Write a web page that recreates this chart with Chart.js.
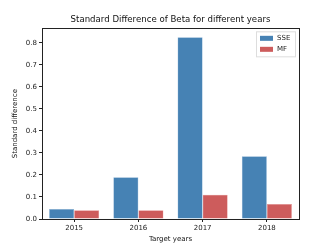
<!DOCTYPE html>
<html>
<head>
<meta charset="utf-8">
<script src="https://cdn.jsdelivr.net/npm/chart.js@4/dist/chart.umd.min.js"></script>
<style>
  html, body { margin: 0; padding: 0; background: #fff; }
  #wrap { width: 332px; height: 247px; }
</style>
</head>
<body>
<div id="wrap"><canvas id="chart" width="332" height="247"></canvas></div>
<script>
const years = ['2015', '2016', '2017', '2018'];
const sseValues = [0.045, 0.19, 0.825, 0.285];
const mfValues = [0.04, 0.04, 0.11, 0.068];
const yTicks = [0, 0.1, 0.2, 0.3, 0.4, 0.5, 0.6, 0.7, 0.8];

const FONT = 'DejaVu Sans';

// matplotlib-style frame + legend box inside the axes
const framePlugin = {
  id: 'frame',
  afterDraw(chart) {
    const { ctx, chartArea: a } = chart;
    ctx.save();
    ctx.strokeStyle = '#222';
    ctx.lineWidth = 1;
    ctx.strokeRect(Math.round(a.left) + 0.5, Math.round(a.top) + 0.5,
      Math.round(a.right - a.left), Math.round(a.bottom - a.top));

    // legend
    const bx = a.right - 43, by = a.top + 3, bw = 39, bh = 25;
    ctx.fillStyle = 'rgba(255,255,255,0.8)';
    ctx.strokeStyle = '#ddd';
    ctx.fillRect(bx, by, bw, bh);
    ctx.strokeRect(bx + 0.5, by + 0.5, bw, bh);
    ctx.font = '7px ' + FONT;
    ctx.textBaseline = 'middle';
    chart.data.datasets.forEach((ds, i) => {
      const y = by + 7 + i * 11;
      ctx.fillStyle = ds.backgroundColor;
      ctx.fillRect(bx + 4, y - 2.5, 13, 5);
      ctx.fillStyle = '#222';
      ctx.fillText(ds.label, bx + 21, y);
    });
    ctx.restore();
  }
};

new Chart(document.getElementById('chart'), {
  type: 'bar',
  data: {
    labels: years,
    datasets: [
      { label: 'SSE', data: sseValues, backgroundColor: 'rgba(70,130,180,1)', borderColor: 'rgba(140,180,215,1)', borderWidth: 0.5 },
      { label: 'MF', data: mfValues, backgroundColor: 'rgba(205,92,92,1)', borderColor: 'rgba(230,150,150,1)', borderWidth: 0.5 }
    ]
  },
  options: {
    responsive: false,
    animation: false,
    devicePixelRatio: 1,
    layout: { padding: { top: 15, right: 33, left: 11, bottom: 4 } },
    datasets: { bar: { categoryPercentage: 0.78, barPercentage: 1.0 } },
    plugins: {
      legend: { display: false },
      tooltip: { enabled: false },
      title: {
        display: true,
        fullSize: false,
        text: 'Standard Difference of Beta for different years',
        color: '#111',
        font: { family: FONT, size: 8.6, weight: 'normal' },
        padding: { top: 0, bottom: 3 }
      }
    },
    scales: {
      x: {
        offset: true,
        grid: { display: true, drawOnChartArea: false, offset: false, color: '#222', tickLength: 3, tickColor: '#222' },
        border: { color: '#222' },
        ticks: { color: '#222', font: { family: FONT, size: 7 }, padding: 2 },
        title: { display: true, text: 'Target years', color: '#111', font: { family: FONT, size: 7 }, padding: { top: 0, bottom: 0 } },
        afterFit(scale) { scale.height = 24; }
      },
      y: {
        min: 0,
        max: 0.866,
        grid: { display: true, drawOnChartArea: false, color: '#222', tickLength: 3, tickColor: '#222' },
        border: { color: '#222' },
        ticks: {
          stepSize: 0.1,
          includeBounds: false,
          color: '#222',
          font: { family: FONT, size: 7 },
          padding: 2,
          callback: v => yTicks.includes(Math.round(v * 10) / 10) ? v.toFixed(1) : ''
        },
        title: { display: true, text: 'Standard difference', color: '#111', font: { family: FONT, size: 7 }, padding: { top: 0, bottom: 2 } },
        afterFit(scale) { scale.width = 31; }
      }
    }
  },
  plugins: [framePlugin]
});
</script>
</body>
</html>
